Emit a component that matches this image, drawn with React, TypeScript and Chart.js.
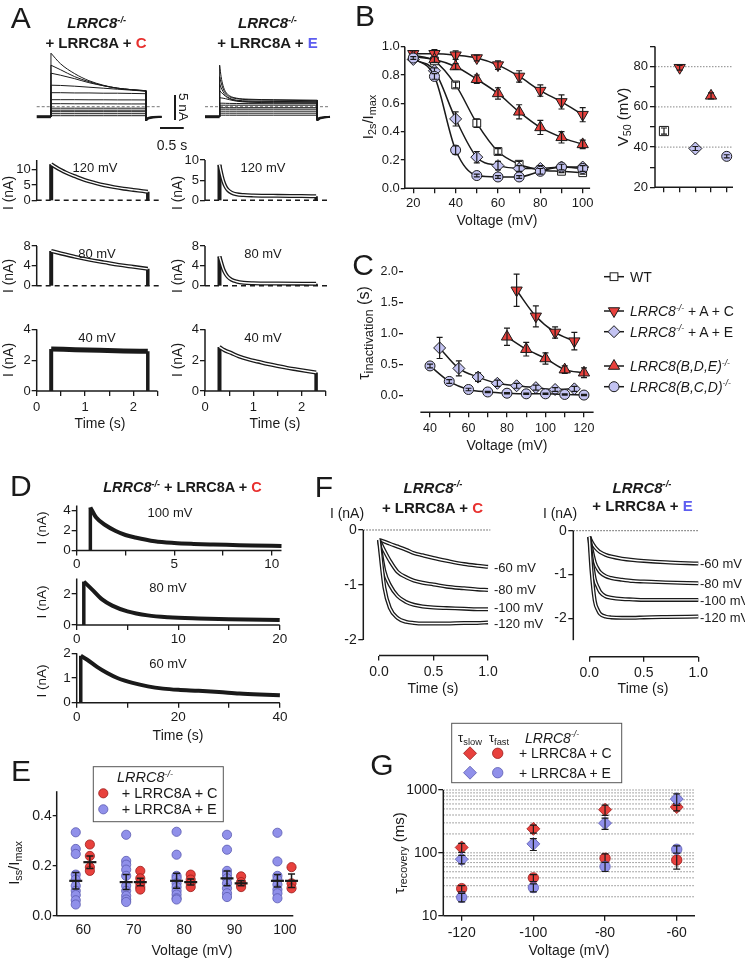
import React, { useEffect, useRef } from 'react';
import { Chart, registerables } from 'chart.js';
Chart.register(...registerables);

const FONT = "'Liberation Sans', Arial, Helvetica, sans-serif";
Chart.defaults.font.family = FONT;
const INK = '#1a1a1a';
const RED = '#e8413d';
const LAV = '#c3c3f2';
const BLUE = '#9090ea';
const BLUE_EDGE = '#5a5ab0';
const RED_EDGE = '#9a1c1a';
const TITLE_RED = '#e8302e';
const TITLE_BLUE = '#5d5df0';
const CLEAR = 'rgba(0,0,0,0)';

// ---------------- Panel A : current families ----------------
const famT_C = [0.3, 0.5, 0.8, 1.1, 1.4, 1.7, 2.0, 2.3];
const famC120 = [10.7, 8.6, 6.6, 5.2, 4.3, 3.7, 3.4, 3.2];
const famC100 = [8.3, 7.4, 6.0, 5.0, 4.2, 3.7, 3.4, 3.2];
const famC80 = [6.7, 6.3, 5.6, 4.8, 4.2, 3.7, 3.4, 3.1];
const famC60 = [4.3, 4.25, 4.1, 3.9, 3.7, 3.5, 3.3, 3.1];
const famC40 = [2.8, 2.8, 2.75, 2.75, 2.7, 2.7, 2.65, 2.6];
const famC20 = [1.4, 1.4, 1.4, 1.38, 1.38, 1.36, 1.36, 1.35];
const famC0 = [0.6, 0.6, 0.58, 0.58, 0.57, 0.56, 0.55, 0.55];
const famCm20 = [-0.3, -0.3, -0.3, -0.3, -0.3, -0.3, -0.3, -0.3];
const famCm40 = [-0.7, -0.7, -0.7, -0.7, -0.7, -0.7, -0.7, -0.7];
const famCm60 = [-1.0, -1.0, -1.0, -1.0, -1.0, -1.0, -1.0, -1.0];
const famCm80 = [-1.4, -1.4, -1.4, -1.4, -1.4, -1.4, -1.4, -1.4];
const famCm100 = [-1.8, -1.8, -1.8, -1.8, -1.8, -1.8, -1.8, -1.8];
const famT_E = [0.3, 0.33, 0.37, 0.42, 0.5, 0.65, 0.9, 1.4, 2.3];
const famE120 = [8.3, 6.0, 4.2, 3.0, 2.2, 1.7, 1.5, 1.4, 1.3];
const famE100 = [6.0, 4.8, 3.6, 2.7, 2.0, 1.6, 1.4, 1.3, 1.2];
const famE80 = [4.5, 3.8, 3.0, 2.3, 1.7, 1.3, 1.15, 1.05, 1.0];
const famE60 = [3.2, 2.9, 2.5, 2.1, 1.6, 1.2, 1.0, 0.95, 0.9];
const famE40 = [1.8, 1.75, 1.7, 1.6, 1.4, 1.1, 0.9, 0.8, 0.75];
const famE20 = [0.7, 0.7, 0.7, 0.68, 0.66, 0.64, 0.62, 0.6, 0.6];
const famE0 = [0.3, 0.3, 0.3, 0.3, 0.3, 0.3, 0.3, 0.3, 0.3];
const famEm20 = [-0.2, -0.2, -0.2, -0.2, -0.2, -0.2, -0.2, -0.2, -0.2];
const famEm40 = [-0.5, -0.5, -0.5, -0.5, -0.5, -0.5, -0.5, -0.5, -0.5];
const famEm60 = [-0.9, -0.9, -0.9, -0.9, -0.9, -0.9, -0.9, -0.9, -0.9];
const famEm80 = [-1.3, -1.3, -1.3, -1.3, -1.3, -1.3, -1.3, -1.3, -1.3];
const famEm100 = [-1.7, -1.7, -1.7, -1.7, -1.7, -1.7, -1.7, -1.7, -1.7];
const famHold = -2.0;
const famTailT_C = [2.3, 2.36, 2.45, 2.63];
const famTailT_E = [2.3, 2.36, 2.45, 2.56];
const famTailI = [-2.7, -2.35, -2.15, -2.05];
const famTailI2 = [-2.4, -2.2, -2.08, -2.02];

// Panel A : single traces (time s, current nA)
const aT120C = [0.3, 0.4, 0.5, 0.6, 0.8, 1.0, 1.2, 1.4, 1.6, 1.8, 2.0, 2.2, 2.3];
const aI120C = [11.8, 10.8, 9.9, 9.1, 7.8, 6.6, 5.7, 4.9, 4.3, 3.8, 3.4, 3.0, 2.8];
const aT120E = [0.3, 0.32, 0.35, 0.38, 0.42, 0.47, 0.55, 0.65, 0.8, 1.0, 1.5, 2.0, 2.3];
const aI120E = [8.8, 7.6, 6.0, 4.7, 3.5, 2.6, 1.9, 1.5, 1.3, 1.2, 1.1, 1.05, 1.0];
const aT80C = [0.3, 0.5, 0.8, 1.1, 1.4, 1.7, 2.0, 2.3];
const aI80C = [7.0, 6.5, 5.8, 5.2, 4.7, 4.2, 3.8, 3.4];
const aT80E = [0.3, 0.32, 0.35, 0.38, 0.42, 0.47, 0.55, 0.65, 0.8, 1.0, 1.5, 2.3];
const aI80E = [5.9, 5.2, 4.2, 3.3, 2.5, 1.8, 1.2, 0.85, 0.6, 0.5, 0.45, 0.4];
const aT40C = [0.3, 0.8, 1.3, 1.8, 2.3];
const aI40C = [2.72, 2.68, 2.64, 2.6, 2.57];
const aT40E = [0.3, 0.4, 0.55, 0.7, 0.9, 1.1, 1.3, 1.5, 1.7, 1.9, 2.1, 2.3];
const aI40E = [2.85, 2.65, 2.45, 2.25, 2.05, 1.9, 1.75, 1.62, 1.5, 1.4, 1.3, 1.2];
const aTimeTicks = [0, 0.5, 1, 1.5, 2, 2.5];
const aTimeLabels = ['0', '', '1', '', '2', ''];

// ---------------- Panel B ----------------
const bVolt = [20, 30, 40, 50, 60, 70, 80, 90, 100];
const bWT = [0.94, 0.9, 0.73, 0.46, 0.26, 0.17, 0.13, 0.12, 0.11];
const bWTErr = [0.01, 0.01, 0.02, 0.03, 0.02, 0.02, 0.01, 0.01, 0.01];
const bAC = [0.95, 0.95, 0.94, 0.92, 0.87, 0.79, 0.69, 0.61, 0.52];
const bACErr = [0.02, 0.03, 0.03, 0.02, 0.03, 0.04, 0.04, 0.05, 0.05];
const bBDE = [0.93, 0.91, 0.86, 0.77, 0.67, 0.54, 0.43, 0.36, 0.31];
const bBDEErr = [0.01, 0.02, 0.02, 0.03, 0.04, 0.05, 0.05, 0.04, 0.03];
const bAE = [0.91, 0.83, 0.49, 0.22, 0.16, 0.14, 0.14, 0.15, 0.15];
const bAEErr = [0.01, 0.02, 0.05, 0.04, 0.03, 0.02, 0.02, 0.02, 0.02];
const bBCD = [0.92, 0.79, 0.27, 0.09, 0.08, 0.08, 0.12, 0.15, 0.14];
const bBCDErr = [0.01, 0.02, 0.03, 0.01, 0.01, 0.01, 0.02, 0.02, 0.02];
const bXTicks = [20, 30, 40, 50, 60, 70, 80, 90, 100];
const bXLabels = ['20', '', '40', '', '60', '', '80', '', '100'];
const bYTicks = [0, 0.2, 0.4, 0.6, 0.8, 1.0];
const bYLabels = ['0.0', '0.2', '0.4', '0.6', '0.8', '1.0'];
const v50Cat = [1, 2, 3, 4, 5];
const v50Val = [48, 79.5, 39.3, 65.5, 35.4];
const v50Err = [1.5, 1.2, 1.0, 1.5, 0.8];
const v50YTicks = [20, 30, 40, 50, 60, 70, 80, 90];
const v50YLabels = ['20', '', '40', '', '60', '', '80', ''];
const v50Grid = [40, 60, 80];

// ---------------- Panel C ----------------
const cVoltAC = [85, 95, 105, 115];
const cAC = [1.7, 1.28, 1.02, 0.88];
const cACErr = [0.26, 0.17, 0.09, 0.14];
const cVoltBDE = [80, 90, 100, 110, 120];
const cBDE = [0.95, 0.75, 0.6, 0.42, 0.37];
const cBDEErr = [0.14, 0.11, 0.09, 0.06, 0.08];
const cVoltAE = [45, 55, 65, 75, 85, 95, 105, 115];
const cAE = [0.77, 0.44, 0.3, 0.2, 0.16, 0.13, 0.1, 0.11];
const cAEErr = [0.17, 0.12, 0.07, 0.05, 0.04, 0.04, 0.03, 0.04];
const cVoltBCD = [40, 50, 60, 70, 80, 90, 100, 110, 120];
const cBCD = [0.48, 0.23, 0.1, 0.06, 0.04, 0.03, 0.03, 0.02, 0.01];
const cBCDErr = [0.03, 0.03, 0.02, 0.01, 0.01, 0.01, 0.01, 0.01, 0.01];
const cXTicks = [40, 50, 60, 70, 80, 90, 100, 110, 120];
const cXLabels = ['40', '', '60', '', '80', '', '100', '', '120'];
const cYTicks = [0, 0.5, 1, 1.5, 2];
const cYLabels = ['0.0', '0.5', '1.0', '1.5', '2.0'];

// ---------------- Panel D ----------------
const dT100 = [0.7, 1.0, 1.5, 2.0, 2.5, 3.0, 4.0, 5.0, 6.0, 7.0, 8.0, 9.0, 10.5];
const dI100 = [4.3, 3.3, 2.5, 1.95, 1.55, 1.3, 0.92, 0.75, 0.66, 0.6, 0.55, 0.5, 0.45];
const dT80 = [0.7, 1.5, 2.5, 3.5, 5, 7, 9, 12, 15, 20];
const dI80 = [2.8, 2.3, 1.65, 1.25, 0.88, 0.62, 0.5, 0.42, 0.37, 0.32];
const dT60 = [0.8, 2, 4, 6, 8, 11, 14, 17, 20, 24, 28, 32, 36, 40];
const dI60 = [1.9, 1.75, 1.45, 1.2, 1.0, 0.8, 0.66, 0.57, 0.52, 0.48, 0.43, 0.37, 0.33, 0.3];

// ---------------- Panel E ----------------
const eVolt = [60, 70, 80, 90, 100];
const eBlue60 = [0.335, 0.268, 0.248, 0.165, 0.145, 0.12, 0.1, 0.083, 0.062, 0.045];
const eBlue70 = [0.325, 0.22, 0.205, 0.185, 0.16, 0.12, 0.1, 0.08, 0.065, 0.055];
const eBlue80 = [0.337, 0.245, 0.16, 0.15, 0.13, 0.115, 0.1, 0.085, 0.07, 0.065];
const eBlue90 = [0.325, 0.265, 0.18, 0.165, 0.15, 0.13, 0.11, 0.09, 0.075];
const eBlue100 = [0.333, 0.218, 0.16, 0.145, 0.125, 0.105, 0.09, 0.07];
const eRed60 = [0.286, 0.24, 0.195, 0.18];
const eRed70 = [0.18, 0.15, 0.13, 0.115, 0.105];
const eRed80 = [0.165, 0.145, 0.13, 0.115];
const eRed90 = [0.158, 0.135, 0.125, 0.115];
const eRed100 = [0.195, 0.13, 0.11];
const eMeanBlue = [0.14, 0.135, 0.14, 0.15, 0.14];
const eSemBlue = [0.033, 0.03, 0.03, 0.03, 0.025];
const eMeanRed = [0.215, 0.135, 0.135, 0.13, 0.14];
const eSemRed = [0.025, 0.015, 0.012, 0.01, 0.027];
const E_BLUE_OFF = -1.5;
const E_RED_OFF = 1.3;

// ---------------- Panel F ----------------
const fTL = [0, 0.05, 0.1, 0.17, 0.25, 0.32, 0.4, 0.5, 0.62, 0.78, 0.9, 1.0];
const fL60 = [-0.18, -0.21, -0.25, -0.3, -0.36, -0.42, -0.46, -0.51, -0.56, -0.62, -0.65, -0.67];
const fL80 = [-0.18, -0.38, -0.56, -0.76, -0.86, -0.92, -0.96, -0.99, -1.03, -1.06, -1.08, -1.09];
const fL100 = [-0.18, -0.75, -1.0, -1.2, -1.31, -1.36, -1.39, -1.41, -1.42, -1.43, -1.44, -1.44];
const fL120 = [-0.18, -1.05, -1.42, -1.6, -1.67, -1.69, -1.7, -1.7, -1.7, -1.69, -1.69, -1.68];
const fTR = [0, 0.02, 0.05, 0.08, 0.1, 0.15, 0.2, 0.3, 0.4, 0.5, 0.7, 1.0];
const fR60 = [-0.14, -0.25, -0.37, -0.45, -0.49, -0.55, -0.59, -0.64, -0.67, -0.69, -0.72, -0.75];
const fR80 = [-0.14, -0.4, -0.72, -0.88, -0.95, -1.04, -1.08, -1.12, -1.15, -1.16, -1.18, -1.2];
const fR100 = [-0.14, -0.6, -1.1, -1.3, -1.4, -1.5, -1.53, -1.56, -1.57, -1.58, -1.58, -1.58];
const fR120 = [-0.14, -0.9, -1.6, -1.82, -1.9, -1.96, -1.98, -1.99, -1.99, -1.98, -1.97, -1.96];
const fXTicks = [0, 0.5, 1];
const fXLabels = ['0.0', '0.5', '1.0'];
const fYTicks = [0, -1, -2];
const fYLabels = ['0', '-1', '-2'];

// ---------------- Panel G ----------------
const gVolt = [-120, -100, -80, -60];
const gSlowC = [122, 241, 486, 535];
const gSlowCErr = [20, 35, 90, 70];
const gSlowE = [79, 139, 297, 718];
const gSlowEErr = [12, 30, 60, 150];
const gFastC = [27, 40, 82, 77];
const gFastCErr = [3, 5, 14, 22];
const gFastE = [19.6, 28, 60.5, 114];
const gFastEErr = [3, 4, 10, 15];
const gYTicks = [10, 20, 30, 40, 50, 60, 70, 80, 90, 100, 200, 300, 400, 500, 600, 700, 800, 900, 1000];
const gYMajor = [10, 100, 1000];
const gXTicks = [-120, -100, -80, -60];
const gXLabels = ['-120', '-100', '-80', '-60'];

// ---------------- helpers ----------------
const pts = (xs: number[], ys: number[]) => xs.map((x, i) => ({ x, y: ys[i] }));
const seg = (data: any[], color = INK, w = 1) => ({ data, borderColor: color, borderWidth: w, pointRadius: 0, tension: 0 });
const crv = (data: any[], color = INK, w = 1) => ({ data, borderColor: color, borderWidth: w, pointRadius: 0, cubicInterpolationMode: 'monotone' });

const ST_WT = { pointStyle: 'rect', pointBackgroundColor: '#fff', pointRadius: 5.5, pointRotation: 0 };
const ST_AC = { pointStyle: 'triangle', pointRotation: 180, pointBackgroundColor: RED, pointRadius: 6.5 };
const ST_AE = { pointStyle: 'rectRot', pointBackgroundColor: LAV, pointRadius: 6 };
const ST_BDE = { pointStyle: 'triangle', pointRotation: 0, pointBackgroundColor: RED, pointRadius: 6.5 };
const ST_BCD = { pointStyle: 'circle', pointBackgroundColor: LAV, pointRadius: 5 };

const series = (xs: number[], ys: number[], errs: number[], st: any, line = true) => ({
  data: pts(xs, ys), showLine: line, borderColor: INK, borderWidth: 1.5, cubicInterpolationMode: 'monotone',
  pointBorderColor: INK, pointBorderWidth: 1, errors: errs, errCap: 3, ...st,
});

function famDatasets(tGrid: number[], levels: number[][], tailT: number[]) {
  const ds: any[] = [seg([{ x: 0, y: famHold }, { x: tGrid[0], y: famHold }], INK, 3)];
  levels.forEach((lv) => {
    ds.push(seg([{ x: tGrid[0], y: famHold }, { x: tGrid[0], y: lv[0] }]));
    ds.push(crv(pts(tGrid, lv)));
    ds.push(seg([{ x: tGrid[tGrid.length - 1], y: lv[lv.length - 1] }, { x: tGrid[tGrid.length - 1], y: famTailI[0] }]));
  });
  ds.push(crv(pts(tailT, famTailI), INK, 2));
  ds.push(crv(pts(tailT, famTailI2), INK, 2));
  return ds;
}

function pulseTrace(t: number[], i: number[], fit: boolean, w = 4) {
  const data = pts(t, i);
  const ds: any[] = [
    seg([{ x: t[0], y: 0 }, { x: t[0], y: i[0] }], INK, 4),
    seg([{ x: t[t.length - 1], y: i[i.length - 1] }, { x: t[t.length - 1], y: 0 }], INK, 3.5),
    crv(data, INK, w),
  ];
  if (fit) ds.push(crv(data, '#ffffff', 1.4));
  return ds;
}

function fitTraces(t: number[], rows: number[][]) {
  const ds: any[] = [];
  rows.forEach((r) => { ds.push(crv(pts(t, r), INK, 4)); ds.push(crv(pts(t, r), '#ffffff', 1.4)); });
  return ds;
}

const errorBars = {
  id: 'errorBars',
  afterDatasetDraw(chart: any, args: any) {
    const ds = chart.data.datasets[args.index];
    if (!ds.errors) return;
    const meta = args.meta;
    const ys = chart.scales[meta.yAxisID];
    const ctx = chart.ctx;
    ctx.save();
    ctx.strokeStyle = INK;
    ctx.lineWidth = ds.errWidth || 1.2;
    const cap = ds.errCap ?? 3;
    meta.data.forEach((el: any, i: number) => {
      const e = ds.errors[i];
      if (!e) return;
      const v = ds.data[i].y;
      const y1 = ys.getPixelForValue(v + e);
      const y2 = ys.getPixelForValue(v - e);
      ctx.beginPath();
      ctx.moveTo(el.x, y1); ctx.lineTo(el.x, y2);
      ctx.moveTo(el.x - cap, y1); ctx.lineTo(el.x + cap, y1);
      ctx.moveTo(el.x - cap, y2); ctx.lineTo(el.x + cap, y2);
      ctx.stroke();
    });
    ctx.restore();
  },
};

function makeGuides(g: any) {
  return {
    id: 'guides',
    beforeDatasetsDraw(chart: any) {
      const { ctx, chartArea: ca, scales } = chart;
      const xs = scales.x, ys = scales.y;
      ctx.save();
      (g.h || []).forEach((h: any) => {
        const y = ys.getPixelForValue(h.value);
        const x1 = h.from != null ? xs.getPixelForValue(h.from) : ca.left;
        const x2 = h.to != null ? xs.getPixelForValue(h.to) : ca.right;
        ctx.strokeStyle = h.color || INK;
        ctx.lineWidth = h.width || 1;
        ctx.setLineDash(h.dash || []);
        ctx.beginPath(); ctx.moveTo(x1, y); ctx.lineTo(x2, y); ctx.stroke();
      });
      ctx.setLineDash([]);
      ctx.strokeStyle = INK;
      ctx.lineWidth = 1.5;
      if (g.xAxis) {
        ctx.beginPath();
        ctx.moveTo(xs.getPixelForValue(g.xAxis[0]), ca.bottom);
        ctx.lineTo(xs.getPixelForValue(g.xAxis[1]), ca.bottom);
        ctx.stroke();
      }
      if (g.yAxis) {
        ctx.beginPath();
        ctx.moveTo(ca.left, ys.getPixelForValue(g.yAxis[0]));
        ctx.lineTo(ca.left, ys.getPixelForValue(g.yAxis[1]));
        ctx.stroke();
      }
      ctx.restore();
    },
  };
}

function mkAxis(o: any, horiz: boolean) {
  return {
    type: o.type || 'linear',
    position: horiz ? 'bottom' : 'left',
    display: !!o.show,
    min: o.min,
    max: o.max,
    border: { display: false },
    grid: {
      display: true, drawOnChartArea: false, drawTicks: true, tickLength: o.tickLen ?? 5,
      color: INK, lineWidth: 1.3, tickColor: o.tickColor || INK,
    },
    ticks: {
      autoSkip: false, maxRotation: 0, minRotation: 0, padding: o.pad ?? 2, color: INK,
      font: { family: FONT, size: o.font ?? 13 },
      callback: (_v: any, i: number) => (o.labels ? o.labels[i] ?? '' : ''),
    },
    afterBuildTicks: (s: any) => { s.ticks = (o.ticks || []).map((v: number) => ({ value: v })); },
    afterFit: (s: any) => {
      if (horiz) s.height = o.size ?? 0; else s.width = o.size ?? 0;
      s.paddingLeft = 0; s.paddingRight = 0; s.paddingTop = 0; s.paddingBottom = 0;
    },
  };
}

function ChartBox({ spec }: { spec: any }) {
  const ref = useRef<HTMLCanvasElement | null>(null);
  const { l, t, r, b } = spec.area;
  const yw = spec.y.show ? spec.y.size ?? 0 : 0;
  const xh = spec.x.show ? spec.x.size ?? 0 : 0;
  const cl = Math.floor(l - yw - 4);
  const ct = Math.floor(t - 10);
  const padL = l - yw - cl;
  const padT = t - ct;
  const cw = Math.ceil(padL + yw + (r - l) + 16);
  const chh = Math.ceil(padT + (b - t) + xh + 4);
  const padR = cw - (padL + yw + (r - l));
  const padB = chh - (padT + (b - t) + xh);
  useEffect(() => {
    const dss = spec.ds();
    const chart = new Chart(ref.current as HTMLCanvasElement, {
      type: 'line',
      data: { datasets: dss.map((d: any, i: number) => ({ order: dss.length - i, clip: false, fill: false, ...d })) },
      options: {
        responsive: false, animation: false, devicePixelRatio: 1, events: [],
        layout: { padding: { left: padL, top: padT, right: padR, bottom: padB }, autoPadding: false },
        plugins: { legend: { display: false }, tooltip: { enabled: false } },
        scales: { x: mkAxis(spec.x, true), y: mkAxis(spec.y, false) },
      } as any,
      plugins: [makeGuides(spec.guides || {}), errorBars] as any,
    });
    return () => chart.destroy();
  }, []);
  return <canvas ref={ref} width={cw} height={chh} style={{ position: 'absolute', left: cl, top: ct, width: cw, height: chh }} />;
}

// ---------------- chart specs ----------------
const A_XMAX = 2.594;
const aCol = (left: boolean) => (left ? { l: 36.7, r: 162 } : { l: 205, r: 330.3 });
function aSpec(left: boolean, row: number, yMax: number, yTicks: number[], ds: () => any[]) {
  const rows = [{ t: 160, b: 222.3 }, { t: 246, b: 307.7 }, { t: 329.3, b: 391 }];
  const last = row === 2;
  return {
    area: { ...aCol(left), ...rows[row] },
    x: { show: last, min: 0, max: A_XMAX, ticks: aTimeTicks, labels: aTimeLabels, size: 22, pad: 4, font: 13 },
    y: { show: true, min: 0, max: yMax, ticks: yTicks, labels: yTicks.map(String), size: 25, pad: 1, font: 13 },
    guides: { yAxis: [0, yMax], xAxis: last ? [0, 2.5] : null, h: last ? [] : [{ value: 0, from: 0, to: A_XMAX, dash: [5, 4], width: 1.5 }] },
    ds,
  };
}

const specs: any[] = [
  {
    area: { l: 36.7, t: 50, r: 161.7, b: 122 },
    x: { show: false, min: 0, max: 2.63 }, y: { show: false, min: -3.06, max: 11.34 },
    guides: { h: [{ value: 0, from: 0, to: 2.63, dash: [3, 2], color: '#777', width: 1 }] },
    ds: () => famDatasets(famT_C, [famC120, famC100, famC80, famC60, famC40, famC20, famC0, famCm20, famCm40, famCm60, famCm80, famCm100], famTailT_C),
  },
  {
    area: { l: 205, t: 50, r: 330, b: 122 },
    x: { show: false, min: 0, max: 2.56 }, y: { show: false, min: -3.06, max: 11.34 },
    guides: { h: [{ value: 0, from: 0, to: 2.56, dash: [3, 2], color: '#777', width: 1 }] },
    ds: () => famDatasets(famT_E, [famE120, famE100, famE80, famE60, famE40, famE20, famE0, famEm20, famEm40, famEm60, famEm80, famEm100], famTailT_E),
  },
  aSpec(true, 0, 13.17, [0, 5, 10], () => pulseTrace(aT120C, aI120C, true)),
  aSpec(false, 0, 10, [0, 5, 10], () => pulseTrace(aT120E, aI120E, true)),
  aSpec(true, 1, 8, [0, 4, 8], () => pulseTrace(aT80C, aI80C, true)),
  aSpec(false, 1, 8, [0, 4, 8], () => pulseTrace(aT80E, aI80E, true)),
  aSpec(true, 2, 4, [0, 2, 4], () => pulseTrace(aT40C, aI40C, false, 5)),
  aSpec(false, 2, 4, [0, 2, 4], () => pulseTrace(aT40E, aI40E, true)),
  // B main
  {
    area: { l: 404.8, t: 46.7, r: 590.1, b: 188.3 },
    x: { show: true, min: 16, max: 103.5, ticks: bXTicks, labels: bXLabels, size: 22, pad: 2, font: 13 },
    y: { show: true, min: 0, max: 1, ticks: bYTicks, labels: bYLabels, size: 35, pad: 1, tickLen: 4, font: 13 },
    guides: { xAxis: [16, 103.5], yAxis: [0, 1] },
    ds: () => [
      series(bVolt, bWT, bWTErr, ST_WT),
      series(bVolt, bAC, bACErr, ST_AC),
      series(bVolt, bBDE, bBDEErr, ST_BDE),
      series(bVolt, bAE, bAEErr, ST_AE),
      series(bVolt, bBCD, bBCDErr, ST_BCD),
    ],
  },
  // B V50
  {
    area: { l: 655, t: 46.6, r: 733, b: 187.3 },
    x: { show: true, min: 0.427, max: 5.4, ticks: v50Cat, labels: [], size: 10 },
    y: { show: true, min: 20, max: 90, ticks: v50YTicks, labels: v50YLabels, size: 30, pad: 2, font: 13 },
    guides: { xAxis: [0.427, 5.4], yAxis: [20, 90], h: v50Grid.map((v) => ({ value: v, dash: [1.5, 1.5], color: '#888', width: 1 })) },
    ds: () => [
      series([v50Cat[0]], [v50Val[0]], [v50Err[0]], { ...ST_WT, pointRadius: 6.5 }, false),
      series([v50Cat[1]], [v50Val[1]], [v50Err[1]], ST_AC, false),
      series([v50Cat[2]], [v50Val[2]], [v50Err[2]], { ...ST_AE, pointRadius: 6.5 }, false),
      series([v50Cat[3]], [v50Val[3]], [v50Err[3]], ST_BDE, false),
      series([v50Cat[4]], [v50Val[4]], [v50Err[4]], ST_BCD, false),
    ],
  },
  // C
  {
    area: { l: 403, t: 271.7, r: 593.6, b: 412.3 },
    x: { show: true, min: 25.97, max: 125, ticks: cXTicks, labels: cXLabels, size: 22, pad: 4, font: 12.5 },
    y: { show: true, min: -0.268, max: 2, ticks: cYTicks, labels: cYLabels, size: 30, pad: 1, tickLen: 4, font: 12.5 },
    guides: { xAxis: [35, 125] },
    ds: () => [
      series(cVoltAC, cAC, cACErr, ST_AC),
      series(cVoltBDE, cBDE, cBDEErr, ST_BDE),
      series(cVoltAE, cAE, cAEErr, ST_AE),
      series(cVoltBCD, cBCD, cBCDErr, ST_BCD),
    ],
  },
  // D
  {
    area: { l: 76.7, t: 505.5, r: 281.5, b: 550.5 },
    x: { show: true, min: 0, max: 10.5, ticks: [0, 2.5, 5, 7.5, 10], labels: ['0', '', '5', '', '10'], size: 20, pad: 1, font: 13.5 },
    y: { show: true, min: 0, max: 4.5, ticks: [0, 2, 4], labels: ['0', '2', '4'], size: 25, pad: 1, font: 13.5 },
    guides: { xAxis: [0, 10.5], yAxis: [0, 4.5] },
    ds: () => [seg([{ x: dT100[0], y: 0 }, { x: dT100[0], y: dI100[0] }], INK, 3.5), crv(pts(dT100, dI100), INK, 4)],
  },
  {
    area: { l: 76.7, t: 578.5, r: 279.7, b: 625 },
    x: { show: true, min: 0, max: 20, ticks: [0, 5, 10, 15, 20], labels: ['0', '', '10', '', '20'], size: 20, pad: 1, font: 13.5 },
    y: { show: true, min: 0, max: 3, ticks: [0, 2], labels: ['0', '2'], size: 25, pad: 1, font: 13.5 },
    guides: { xAxis: [0, 20], yAxis: [0, 3] },
    ds: () => [seg([{ x: dT80[0], y: 0 }, { x: dT80[0], y: dI80[0] }], INK, 3.5), crv(pts(dT80, dI80), INK, 4)],
  },
  {
    area: { l: 76.7, t: 653.3, r: 279.9, b: 702.7 },
    x: { show: true, min: 0, max: 40, ticks: [0, 10, 20, 30, 40], labels: ['0', '', '20', '', '40'], size: 20, pad: 1, font: 13.5 },
    y: { show: true, min: 0, max: 2, ticks: [0, 1, 2], labels: ['0', '1', '2'], size: 25, pad: 1, font: 13.5 },
    guides: { xAxis: [0, 40], yAxis: [0, 2] },
    ds: () => [seg([{ x: dT60[0], y: 0 }, { x: dT60[0], y: dI60[0] }], INK, 3.5), crv(pts(dT60, dI60), INK, 4)],
  },
  // E
  {
    area: { l: 56.7, t: 791.2, r: 293.3, b: 915.7 },
    x: { show: true, min: 54.72, max: 101.65, ticks: eVolt, labels: eVolt.map(String), size: 22, pad: 1, font: 14, tickColor: CLEAR },
    y: { show: true, min: 0, max: 0.5, ticks: [0, 0.2, 0.4], labels: ['0.0', '0.2', '0.4'], size: 40, pad: 1, tickLen: 4, font: 14 },
    guides: { xAxis: [54.72, 101.65], yAxis: [0, 0.5] },
    ds: () => {
      const blues = [eBlue60, eBlue70, eBlue80, eBlue90, eBlue100];
      const reds = [eRed60, eRed70, eRed80, eRed90, eRed100];
      const bData = eVolt.flatMap((v, k) => blues[k].map((y) => ({ x: v + E_BLUE_OFF, y })));
      const rData = eVolt.flatMap((v, k) => reds[k].map((y) => ({ x: v + E_RED_OFF, y })));
      const dot = { showLine: false, pointStyle: 'circle', pointRadius: 4.6, pointBorderWidth: 0.8 };
      const mean = { showLine: false, pointStyle: 'line', pointRadius: 6.5, pointBorderWidth: 2.2, pointBorderColor: INK, errCap: 3.5, errWidth: 1.5 };
      return [
        { data: bData, ...dot, pointBackgroundColor: BLUE, pointBorderColor: BLUE_EDGE },
        { data: rData, ...dot, pointBackgroundColor: RED, pointBorderColor: RED_EDGE },
        { data: pts(eVolt.map((v) => v + E_BLUE_OFF), eMeanBlue), errors: eSemBlue, ...mean },
        { data: pts(eVolt.map((v) => v + E_RED_OFF), eMeanRed), errors: eSemRed, ...mean },
      ];
    },
  },
  // F left
  {
    area: { l: 363.3, t: 525, r: 490.3, b: 655.5 },
    x: { show: true, min: -0.144, max: 1.021, ticks: fXTicks, labels: fXLabels, size: 22, pad: 3, font: 14 },
    y: { show: true, min: -2.2818, max: 0.0909, ticks: fYTicks, labels: fYLabels, size: 28, pad: 1.5, font: 14 },
    guides: { xAxis: [0, 1], yAxis: [-2, 0], h: [{ value: 0, dash: [1.5, 1.5], color: '#555', width: 1 }] },
    ds: () => fitTraces(fTL, [fL60, fL80, fL100, fL120]),
  },
  // F right
  {
    area: { l: 573.3, t: 525, r: 698.3, b: 656.7 },
    x: { show: true, min: -0.1468, max: 1.0, ticks: fXTicks, labels: fXLabels, size: 22, pad: 3, font: 14 },
    y: { show: true, min: -2.877, max: 0.13, ticks: fYTicks, labels: fYLabels, size: 28, pad: 1.5, font: 14 },
    guides: { xAxis: [0, 1], yAxis: [-2.5, 0], h: [{ value: 0, dash: [1.5, 1.5], color: '#555', width: 1 }] },
    ds: () => fitTraces(fTR, [fR60, fR80, fR100, fR120]),
  },
  // G
  {
    area: { l: 443.3, t: 790, r: 695, b: 915.7 },
    x: { show: true, min: -125.13, max: -54.9, ticks: gXTicks, labels: gXLabels, size: 22, pad: 4, font: 14 },
    y: {
      show: true, type: 'logarithmic', min: 10, max: 1000, ticks: gYTicks,
      labels: gYTicks.map((v) => (gYMajor.includes(v) ? String(v) : '')), size: 45, pad: 1, font: 14,
      tickColor: (c: any) => (c.tick && gYMajor.includes(c.tick.value) ? INK : CLEAR),
    },
    guides: { xAxis: [-125.13, -54.9], yAxis: [10, 1000], h: gYTicks.filter((v) => v > 10).map((v) => ({ value: v, dash: [1.5, 1.5], color: '#8a8a8a', width: 1 })) },
    ds: () => {
      const st = (fill: string, edge: string, style: string, r: number) => ({ showLine: false, pointStyle: style, pointRadius: r, pointBackgroundColor: fill, pointBorderColor: edge, pointBorderWidth: 0.8, errCap: 3.5 });
      return [
        { data: pts(gVolt, gSlowC), errors: gSlowCErr, ...st(RED, RED_EDGE, 'rectRot', 6.5) },
        { data: pts(gVolt, gSlowE), errors: gSlowEErr, ...st(BLUE, BLUE_EDGE, 'rectRot', 6.5) },
        { data: pts(gVolt, gFastC), errors: gFastCErr, ...st(RED, RED_EDGE, 'circle', 5.2) },
        { data: pts(gVolt, gFastE), errors: gFastEErr, ...st(BLUE, BLUE_EDGE, 'circle', 5.2) },
      ];
    },
  },
];

// ---------------- text helpers ----------------
function T({ x, y, s = 13, a = 'c', rot = 0, b = false, it = false, color = INK, children }: any) {
  const tx = a === 'c' ? '-50%' : a === 'e' ? '-100%' : '0%';
  return (
    <div
      style={{
        position: 'absolute', left: x, top: y,
        transform: `translate(${tx},-50%)` + (rot ? ` rotate(${rot}deg)` : ''),
        fontFamily: FONT, fontSize: s, fontWeight: b ? 'bold' : 'normal', fontStyle: it ? 'italic' : 'normal',
        color, whiteSpace: 'nowrap', lineHeight: 1,
      }}
    >
      {children}
    </div>
  );
}
const Sup = ({ children }: any) => <span style={{ fontSize: '0.62em', position: 'relative', top: '-0.6em' }}>{children}</span>;
const Sub = ({ children, f = '0.72em' }: any) => <span style={{ fontSize: f, position: 'relative', top: '0.32em' }}>{children}</span>;
const KO = ({ name = 'LRRC8' }: any) => (<><i>{name}</i><Sup><i>-/-</i></Sup></>);

function Sym({ kind, x, y, r, fill, stroke = INK, sw = 1 }: any) {
  if (kind === 'circle') return <circle cx={x} cy={y} r={r} fill={fill} stroke={stroke} strokeWidth={sw} />;
  if (kind === 'square') { const h = r * Math.SQRT1_2; return <rect x={x - h} y={y - h} width={2 * h} height={2 * h} fill={fill} stroke={stroke} strokeWidth={sw} />; }
  if (kind === 'diamond') return <polygon points={`${x},${y - r} ${x + r},${y} ${x},${y + r} ${x - r},${y}`} fill={fill} stroke={stroke} strokeWidth={sw} />;
  const d = kind === 'down' ? -1 : 1;
  return <polygon points={`${x},${y - d * r} ${x + 0.866 * r},${y + d * 0.5 * r} ${x - 0.866 * r},${y + d * 0.5 * r}`} fill={fill} stroke={stroke} strokeWidth={sw} />;
}

const legendC = [
  { y: 276.7, kind: 'square', fill: '#fff', r: 5.5 },
  { y: 311, kind: 'down', fill: RED, r: 6.5 },
  { y: 331.7, kind: 'diamond', fill: LAV, r: 6 },
  { y: 366, kind: 'up', fill: RED, r: 6.5 },
  { y: 386.7, kind: 'circle', fill: LAV, r: 5 },
];

export default function App() {
  return (
    <div style={{ position: 'absolute', left: 0, top: 0, width: 745, height: 958, background: '#fff', overflow: 'hidden' }}>
      {specs.map((s, i) => <ChartBox key={i} spec={s} />)}

      <svg width={745} height={958} style={{ position: 'absolute', left: 0, top: 0, pointerEvents: 'none' }}>
        {/* A scale bars */}
        <line x1={175} y1={95} x2={175} y2={120} stroke={INK} strokeWidth={2} />
        <line x1={160} y1={128} x2={183.75} y2={128} stroke={INK} strokeWidth={2} />
        {/* C legend */}
        {legendC.map((e, i) => (
          <g key={i}>
            <line x1={604} y1={e.y} x2={624} y2={e.y} stroke={INK} strokeWidth={1.5} />
            <Sym kind={e.kind} x={614} y={e.y} r={e.r} fill={e.fill} />
          </g>
        ))}
        {/* E legend */}
        <rect x={93.3} y={766.7} width={130} height={55} fill="none" stroke="#555" strokeWidth={1} />
        <Sym kind="circle" x={103.3} y={793.3} r={4.6} fill={RED} stroke={RED_EDGE} sw={0.8} />
        <Sym kind="circle" x={103.3} y={809.3} r={4.6} fill={BLUE} stroke={BLUE_EDGE} sw={0.8} />
        {/* G legend */}
        <rect x={451.7} y={723.3} width={170} height={59.4} fill="#fff" stroke="#555" strokeWidth={1} />
        <Sym kind="diamond" x={470} y={753.3} r={6.5} fill={RED} stroke={RED_EDGE} sw={0.8} />
        <Sym kind="circle" x={497.7} y={753.3} r={5.2} fill={RED} stroke={RED_EDGE} sw={0.8} />
        <Sym kind="diamond" x={470} y={772.7} r={6.5} fill={BLUE} stroke={BLUE_EDGE} sw={0.8} />
        <Sym kind="circle" x={497.7} y={772.7} r={5.2} fill={BLUE} stroke={BLUE_EDGE} sw={0.8} />
      </svg>

      {/* panel letters */}
      <T x={20.8} y={17.5} s={30}>A</T>
      <T x={365} y={16} s={30}>B</T>
      <T x={363} y={265} s={30}>C</T>
      <T x={20.8} y={486} s={30}>D</T>
      <T x={21} y={771} s={30}>E</T>
      <T x={324} y={486.7} s={30}>F</T>
      <T x={382} y={765} s={30}>G</T>

      {/* A */}
      <T x={96.7} y={23.3} s={15} b><KO /></T>
      <T x={96} y={41.7} s={15} b>+ LRRC8A + <span style={{ color: TITLE_RED }}>C</span></T>
      <T x={267.5} y={23.3} s={15} b><KO /></T>
      <T x={267.5} y={41.7} s={15} b>+ LRRC8A + <span style={{ color: TITLE_BLUE }}>E</span></T>
      <T x={183} y={107} s={13.5} rot={90}>5 nA</T>
      <T x={172} y={145} s={14}>0.5 s</T>
      <T x={95} y={167} s={13}>120 mV</T>
      <T x={263} y={167} s={13}>120 mV</T>
      <T x={97} y={253} s={13}>80 mV</T>
      <T x={263} y={253} s={13}>80 mV</T>
      <T x={97} y={337} s={13}>40 mV</T>
      <T x={263} y={337} s={13}>40 mV</T>
      {[193, 276, 360].map((y) => <T key={'l' + y} x={8} y={y} s={14} rot={-90}>I (nA)</T>)}
      {[193, 276, 360].map((y) => <T key={'r' + y} x={177} y={y} s={14} rot={-90}>I (nA)</T>)}
      <T x={100} y={423} s={14}>Time (s)</T>
      <T x={275} y={423} s={14}>Time (s)</T>

      {/* B */}
      <T x={367} y={117} s={15} rot={-90}>I<Sub>2s</Sub>/I<Sub>max</Sub></T>
      <T x={497} y={220} s={14}>Voltage (mV)</T>
      <T x={622} y={117} s={15} rot={-90}>V<Sub>50</Sub> (mV)</T>

      {/* C */}
      <T x={364} y={333} s={16} rot={-90}>τ<Sub f="0.8em">inactivation</Sub> (s)</T>
      <T x={507} y={445} s={14}>Voltage (mV)</T>
      <T x={630} y={276.7} s={14} a="s">WT</T>
      <T x={630} y={311} s={14} a="s"><KO /> + A + C</T>
      <T x={630} y={331.7} s={14} a="s"><KO /> + A + E</T>
      <T x={630} y={366} s={14} a="s"><KO name="LRRC8(B,D,E)" /></T>
      <T x={630} y={386.7} s={14} a="s"><KO name="LRRC8(B,C,D)" /></T>

      {/* D */}
      <T x={182.5} y={487} s={14.5} b><KO /> + LRRC8A + <span style={{ color: TITLE_RED }}>C</span></T>
      <T x={170} y={512} s={13}>100 mV</T>
      <T x={168} y={587} s={13}>80 mV</T>
      <T x={168} y={663} s={13}>60 mV</T>
      <T x={42} y={528} s={13.5} rot={-90}>I (nA)</T>
      <T x={42} y={602} s={13.5} rot={-90}>I (nA)</T>
      <T x={42} y={681} s={13.5} rot={-90}>I (nA)</T>
      <T x={178} y={735} s={14}>Time (s)</T>

      {/* E */}
      <T x={13} y={863} s={15} rot={-90}>I<Sub>ss</Sub>/I<Sub>max</Sub></T>
      <T x={192} y={950} s={14}>Voltage (mV)</T>
      <T x={117} y={777} s={14.5} a="s"><KO /></T>
      <T x={121.7} y={793.3} s={14.5} a="s">+ LRRC8A + C</T>
      <T x={121.7} y={809.3} s={14.5} a="s">+ LRRC8A + E</T>

      {/* F */}
      <T x={433} y={488} s={15} b><KO /></T>
      <T x={432.5} y={506.7} s={15} b>+ LRRC8A + <span style={{ color: TITLE_RED }}>C</span></T>
      <T x={642} y={488} s={15} b><KO /></T>
      <T x={642.5} y={505} s={15} b>+ LRRC8A + <span style={{ color: TITLE_BLUE }}>E</span></T>
      <T x={347} y={512.7} s={14}>I (nA)</T>
      <T x={560} y={513.3} s={14}>I (nA)</T>
      <T x={494} y={566.7} s={13} a="s">-60 mV</T>
      <T x={494} y={589} s={13} a="s">-80 mV</T>
      <T x={494} y={607} s={13} a="s">-100 mV</T>
      <T x={494} y={623} s={13} a="s">-120 mV</T>
      <T x={700} y={563.3} s={13} a="s">-60 mV</T>
      <T x={700} y={582.7} s={13} a="s">-80 mV</T>
      <T x={700} y={600} s={13} a="s">-100 mV</T>
      <T x={700} y={616.7} s={13} a="s">-120 mV</T>
      <T x={433} y={688.3} s={14}>Time (s)</T>
      <T x={643} y={688.3} s={14}>Time (s)</T>

      {/* G */}
      <T x={470} y={738.3} s={13}>τ<Sub>slow</Sub></T>
      <T x={499} y={738.3} s={13}>τ<Sub>fast</Sub></T>
      <T x={525} y={737.5} s={14} a="s"><KO /></T>
      <T x={519} y={753.3} s={14} a="s">+ LRRC8A + C</T>
      <T x={519} y={772.7} s={14} a="s">+ LRRC8A + E</T>
      <T x={398} y={853} s={15} rot={-90}>τ<Sub>recovery</Sub> (ms)</T>
      <T x={569} y={950} s={14}>Voltage (mV)</T>
    </div>
  );
}
